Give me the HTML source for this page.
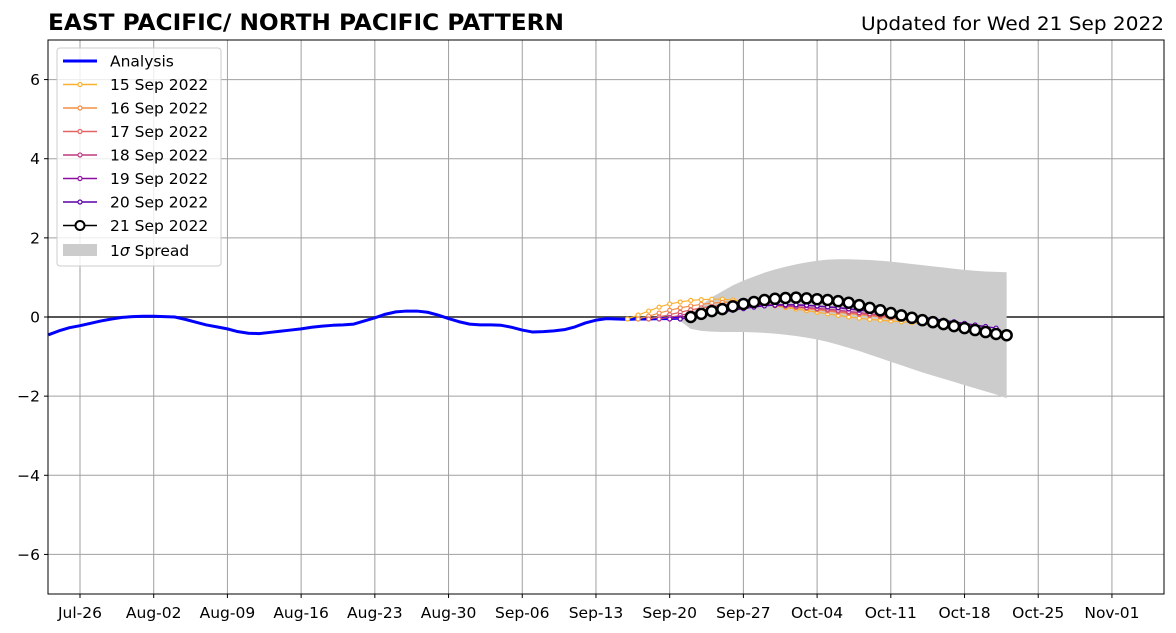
<!DOCTYPE html>
<html><head><meta charset="utf-8"><style>
html,body{margin:0;padding:0;background:#fff;}
svg{display:block;font-family:"DejaVu Sans","Liberation Sans",sans-serif;}
</style></head><body>
<svg id="chart" width="1176" height="633" viewBox="0 0 1176 633" xmlns="http://www.w3.org/2000/svg">
<text x="48" y="30" font-size="22.5" font-weight="bold" textLength="516" lengthAdjust="spacingAndGlyphs">EAST PACIFIC/ NORTH PACIFIC PATTERN</text>
<text x="861" y="30" font-size="19" textLength="303" lengthAdjust="spacingAndGlyphs">Updated for Wed 21 Sep 2022</text>
<g id="grid"></g><g id="marks"></g><g id="axes"></g><g id="legend"></g>
</svg>
<script>
const xTickLabels=["Jul-26","Aug-02","Aug-09","Aug-16","Aug-23","Aug-30","Sep-06","Sep-13","Sep-20","Sep-27","Oct-04","Oct-11","Oct-18","Oct-25","Nov-01"];
const yTicks=[-6,-4,-2,0,2,4,6];
const analysisStart=-3;
const analysis=[-0.45,-0.35,-0.27,-0.22,-0.16,-0.1,-0.05,-0.01,0.01,0.02,0.02,0.01,0.0,-0.06,-0.13,-0.2,-0.25,-0.3,-0.37,-0.41,-0.42,-0.39,-0.36,-0.33,-0.3,-0.26,-0.23,-0.21,-0.2,-0.18,-0.1,-0.02,0.07,0.13,0.15,0.15,0.12,0.05,-0.04,-0.12,-0.18,-0.2,-0.2,-0.21,-0.26,-0.33,-0.38,-0.37,-0.35,-0.32,-0.25,-0.15,-0.08,-0.04,-0.05,-0.06,-0.05,-0.05,-0.04,-0.04,-0.03];
const fcLabels=["15 Sep 2022","16 Sep 2022","17 Sep 2022","18 Sep 2022","19 Sep 2022","20 Sep 2022","21 Sep 2022"];
const fcStarts=[52,53,54,55,56,57,58];
const fc15=[-0.05,0.05,0.15,0.25,0.33,0.38,0.42,0.44,0.45,0.45,0.43,0.4,0.36,0.32,0.28,0.24,0.2,0.16,0.12,0.08,0.04,0.0,-0.03,-0.06,-0.08,-0.1,-0.12,-0.14,-0.16,-0.18,-0.2];
const fc16=[-0.05,0.02,0.1,0.17,0.23,0.28,0.32,0.35,0.37,0.38,0.37,0.35,0.33,0.3,0.27,0.24,0.21,0.18,0.15,0.12,0.09,0.06,0.03,0.0,-0.03,-0.06,-0.09,-0.12,-0.15,-0.18,-0.2];
const fc17=[-0.05,0.0,0.06,0.12,0.18,0.23,0.27,0.3,0.32,0.33,0.33,0.32,0.3,0.28,0.26,0.23,0.2,0.17,0.14,0.11,0.08,0.05,0.02,-0.01,-0.04,-0.07,-0.1,-0.13,-0.16,-0.19,-0.22];
const fc18=[-0.05,-0.01,0.04,0.1,0.15,0.2,0.24,0.27,0.29,0.3,0.3,0.29,0.28,0.26,0.24,0.22,0.2,0.17,0.14,0.11,0.08,0.05,0.02,-0.01,-0.04,-0.07,-0.1,-0.13,-0.16,-0.19,-0.22];
const fc19=[-0.05,-0.02,0.03,0.08,0.13,0.18,0.22,0.25,0.28,0.3,0.31,0.31,0.3,0.29,0.27,0.25,0.23,0.2,0.17,0.14,0.11,0.08,0.05,0.02,-0.01,-0.05,-0.09,-0.13,-0.17,-0.21,-0.25];
const fc20=[-0.05,-0.02,0.02,0.07,0.12,0.17,0.21,0.25,0.28,0.3,0.31,0.31,0.3,0.28,0.26,0.24,0.21,0.18,0.15,0.12,0.09,0.06,0.03,0.0,-0.04,-0.08,-0.12,-0.16,-0.2,-0.24,-0.28];
const fc21=[0.0,0.08,0.15,0.2,0.27,0.33,0.38,0.43,0.46,0.48,0.49,0.47,0.45,0.43,0.4,0.36,0.3,0.23,0.17,0.1,0.04,-0.02,-0.08,-0.13,-0.18,-0.23,-0.28,-0.33,-0.38,-0.43,-0.46];
const spreadStart=57;
const spreadUpper=[-0.05,0.1,0.3,0.5,0.65,0.8,0.92,1.02,1.12,1.2,1.27,1.33,1.38,1.42,1.45,1.46,1.46,1.45,1.44,1.42,1.4,1.37,1.34,1.31,1.28,1.25,1.22,1.19,1.17,1.15,1.14,1.13];
const spreadLower=[-0.1,-0.3,-0.35,-0.37,-0.38,-0.38,-0.38,-0.39,-0.4,-0.42,-0.45,-0.48,-0.52,-0.57,-0.63,-0.7,-0.78,-0.86,-0.95,-1.04,-1.13,-1.22,-1.31,-1.4,-1.48,-1.56,-1.64,-1.72,-1.8,-1.88,-1.96,-2.05];
const fcColors=["#fcb030","#f68d45","#e16462","#c03a83","#8f0da4","#5c01a6","#000"];

const L=48,R=1164,T=40,B=594,X0=80,PXD=10.53,YMIN=-7,YMAX=7;
function xs(d){return X0+d*PXD;}
function ys(v){return B-(v-YMIN)/(YMAX-YMIN)*(B-T);}
const NS="http://www.w3.org/2000/svg";
function mk(tag,parent,attrs){const e=document.createElementNS(NS,tag);for(const k in attrs)e.setAttribute(k,attrs[k]);parent.appendChild(e);return e;}
const grid=document.getElementById('grid'),marks=document.getElementById('marks'),axes=document.getElementById('axes'),leg=document.getElementById('legend');

xTickLabels.forEach((t,i)=>{const x=xs(i*7);
 const g=mk('line',grid,{x1:x,x2:x,y1:T,y2:B,stroke:'#a0a0a0','stroke-width':1});
 
 
 const tk=mk('line',axes,{x1:x,x2:x,y1:B,y2:B+4,stroke:'#000'});
 
 
 const tx=mk('text',axes,{x:x,y:B+24,'font-size':15.5,'text-anchor':'middle'});tx.textContent=t;
 
 
});
yTicks.forEach(v=>{const y=ys(v);
 const g=mk('line',grid,{x1:L,x2:R,y1:y,y2:y,stroke:'#a0a0a0','stroke-width':1});
 
 
 const tk=mk('line',axes,{x1:L-4,x2:L,y1:y,y2:y,stroke:'#000'});
 
 
 const tx=mk('text',axes,{x:L-8,y:y+5.5,'font-size':15.5,'text-anchor':'end'});tx.textContent=(v<0?'\u2212'+(-v):v);
 
 
});
const zl=mk('line',grid,{x1:L,x2:R,y1:ys(0),y2:ys(0),stroke:'#555','stroke-width':2});



let pts=spreadUpper.map((v,i)=>xs(spreadStart+i)+','+ys(v));
pts=pts.concat(spreadLower.map((v,i)=>xs(spreadStart+i)+','+ys(v)).reverse());
const sp=mk('polygon',marks,{points:pts.join(' '),fill:'#cccccc'});



const an=mk('polyline',marks,{points:analysis.map((v,i)=>xs(analysisStart+i)+','+ys(v)).join(' '),fill:'none',stroke:'#0000ff','stroke-width':3,'stroke-linejoin':'round'});



const fcs=[fc15,fc16,fc17,fc18,fc19,fc20,fc21];
fcs.forEach((arr,k)=>{
 const big=k===6;
 const pl=mk('polyline',marks,{points:arr.map((v,i)=>xs(fcStarts[k]+i)+','+ys(v)).join(' '),fill:'none',stroke:fcColors[k],'stroke-width':big?1.5:1.2});
 
 
 arr.forEach((v,i)=>{
  const c=mk('circle',marks,{cx:xs(fcStarts[k]+i),cy:ys(v),r:big?5:2,fill:'#fff',stroke:fcColors[k],'stroke-width':big?2.5:1.2});
  
  
 });
});

const fr=mk('rect',axes,{x:L,y:T,width:R-L,height:B-T,fill:'none',stroke:'#000','stroke-width':1});



const lb=mk('rect',leg,{x:57,y:48,width:164,height:218,rx:3,fill:'#fff','fill-opacity':0.8,stroke:'#ccc'});


const entries=[{t:'Analysis',c:'#0000ff',type:'a'}].concat(fcLabels.map((t,i)=>({t:t,c:fcColors[i],type:i===6?'b':'f'})));
entries.forEach((e,i)=>{const y=61+i*23.5;
 const g=mk('g',leg,{});
 
 
 mk('line',g,{x1:63,x2:97,y1:y,y2:y,stroke:e.c,'stroke-width':e.type==='a'?3:1.5});
 if(e.type!=='a')mk('circle',g,{cx:80,cy:y,r:e.type==='b'?4.5:2,fill:'#fff',stroke:e.c,'stroke-width':e.type==='b'?2:1.2});
 const tx=mk('text',g,{x:110,y:y+5.5,'font-size':15.5});tx.textContent=e.t;
});
const sg=mk('g',leg,{});


mk('rect',sg,{x:63,y:244,width:34,height:12,fill:'#cccccc'});
const st=mk('text',sg,{x:110,y:256,'font-size':15.5});st.innerHTML='1<tspan font-style="italic">σ</tspan> Spread';
</script>
</body></html>
